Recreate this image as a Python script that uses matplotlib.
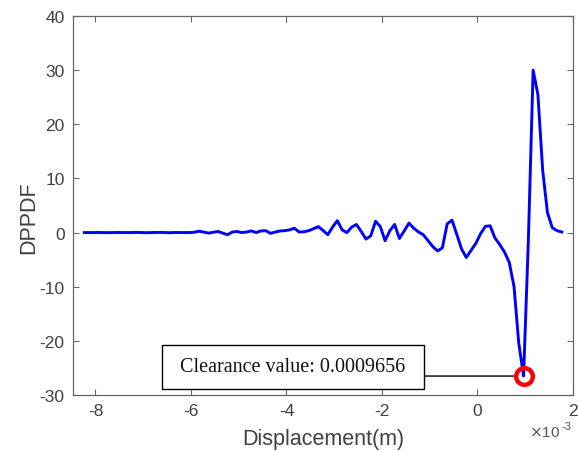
import numpy as np
import matplotlib.pyplot as plt

plt.rcParams['font.family'] = ['Liberation Sans', 'DejaVu Sans']
plt.rcParams['axes.unicode_minus'] = False

# displacement samples (x 1e-3 m): start, step, count
x_start = -8.2344
x_step = 0.1
dppdf = [
    0.0, 0.0, 0.0, 0.02, 0.0, -0.02, 0.0, 0.02, 0.0, 0.0,
    0.0, 0.03, 0.0, -0.03, 0.0, 0.02, 0.04, 0.0, -0.03, 0.02,
    0.0, 0.0, 0.0, 0.05, 0.25, 0.1, -0.1, 0.05, 0.2, -0.1,
    -0.4, 0.1, 0.2, 0.0, 0.1, 0.3, 0.0, 0.3, 0.35, -0.15,
    0.1, 0.3, 0.35, 0.5, 0.8, 0.1, 0.15, 0.35, 0.7, 1.1,
    0.4, -0.4, 1.0, 2.2, 0.5, 0.0, 1.0, 1.5, 0.2, -1.2,
    -0.6, 2.1, 1.1, -1.5, 0.35, 1.5, -1.1, 0.3, 1.75, 0.8,
    0.1, -0.4, -1.5, -2.6, -3.4, -2.8, 1.6, 2.3, -0.3, -3.0,
    -4.6, -3.3, -2.0, -0.2, 1.15, 1.25, -1.0, -2.2, -3.6, -5.5,
    -10.0, -20.5, -26.5, -1.5, 30.0, 25.5, 11.5, 3.7, 0.9, 0.35,
    0.1,
]
disp = x_start + x_step * np.arange(len(dppdf))

clear_x = 0.9656
clear_y = -26.5
clear_label = 'Clearance value: 0.0009656'

fig = plt.figure(figsize=(5.78, 4.52), dpi=100)
ax = fig.add_axes([0.1263, 0.1239, 0.8650, 0.8385])

ax.plot(disp, dppdf, color='#0000ff', lw=2.1, zorder=3)
ax.plot([clear_x], [clear_y], 'o', ms=12, mfc='none', mec='#ff0000', mew=3.2, zorder=4)

ax.annotate('', xy=(clear_x, clear_y), xytext=(0.702, 0.05),
            xycoords='data', textcoords='axes fraction',
            arrowprops=dict(arrowstyle='-', color='k', lw=1.0, shrinkA=0, shrinkB=7))
box = plt.Rectangle((0.178, 0.016), 0.524, 0.116, transform=ax.transAxes,
                    facecolor='white', edgecolor='black', lw=1.0, zorder=5)
ax.add_patch(box)
ax.text(0.44, 0.074, clear_label, transform=ax.transAxes, ha='center', va='center',
        fontsize=14.5, family=['Liberation Serif', 'DejaVu Serif'], color='#111111', zorder=6)

ax.set_xlim(-8.47, 2)
ax.set_ylim(-30, 40)
ax.set_xticks([-8, -6, -4, -2, 0, 2])
ax.set_yticks(np.arange(-30, 41, 10))
ax.tick_params(direction='in', length=4, width=0.8, colors='#666666', labelcolor='#404040',
               labelsize=12.5, top=True, right=True, pad=6)
for s in ax.spines.values():
    s.set_color('#666666')
    s.set_linewidth(0.9)

ax.set_xlabel('Displacement(m)', fontsize=15.5, color='#404040', labelpad=7)
ax.set_ylabel('DPPDF', fontsize=15.5, color='#404040')
ax.yaxis.set_label_coords(-0.068, 0.47)
ax.text(0.975, -0.098, r'$\times$10', transform=ax.transAxes, ha='right', va='center',
        fontsize=11, color='#555555')
ax.text(0.977, -0.083, '-3', transform=ax.transAxes, ha='left', va='center',
        fontsize=8, color='#555555')

fig.savefig('out.png', dpi=100)
